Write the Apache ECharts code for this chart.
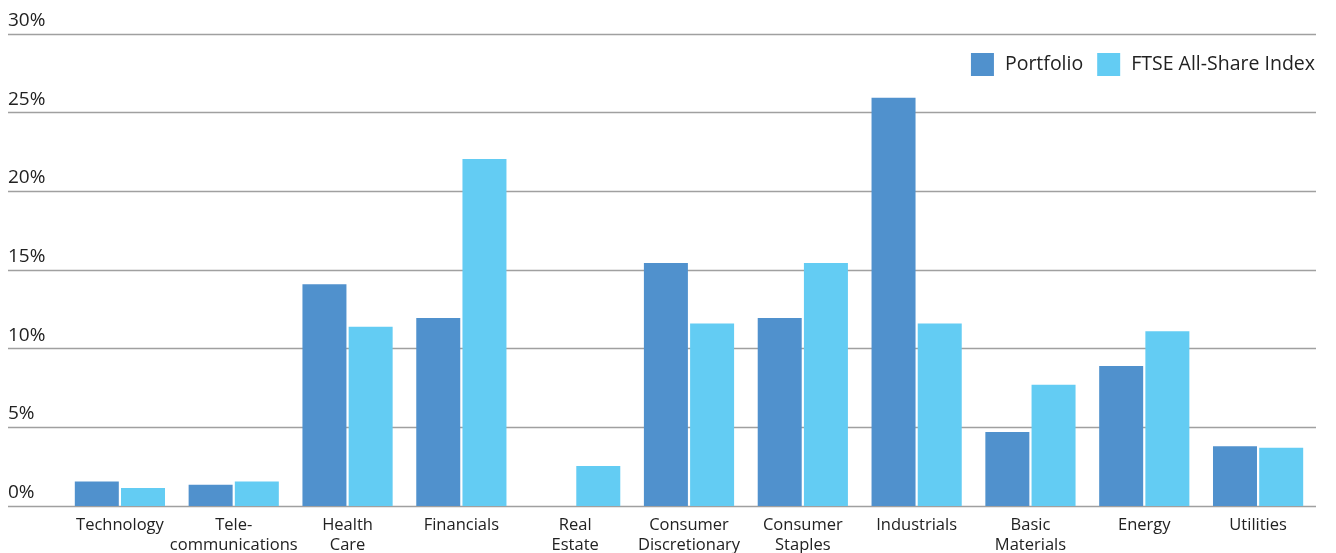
<!DOCTYPE html>
<html><head><meta charset="utf-8">
<script src="https://cdn.jsdelivr.net/npm/echarts@6/dist/echarts.min.js"></script>
<style>html,body{margin:0;padding:0;background:#fff}#c{width:1336px;height:553px}</style>
</head><body><div id="c"></div>
<script>
const categories = ["Technology","Tele-\ncommunications","Health\nCare","Financials","Real\nEstate","Consumer\nDiscretionary","Consumer\nStaples","Industrials","Basic\nMaterials","Energy","Utilities"];
const portfolio = [1.55, 1.35, 14.1, 11.95, 0, 15.45, 11.95, 25.95, 4.7, 8.9, 3.8];
const ftseAllShare = [1.15, 1.55, 11.4, 22.05, 2.55, 11.6, 15.45, 11.6, 7.7, 11.1, 3.7];
const yTicks = [0, 5, 10, 15, 20, 25, 30];

const FONT = "'Open Sans', sans-serif";
const chart = echarts.init(document.getElementById('c'));
chart.setOption({
  animation: false,
  backgroundColor: '#fff',
  textStyle: { fontFamily: FONT },
  legend: {
    right: 21, top: 53, padding: 0,
    itemWidth: 23, itemHeight: 23, itemGap: 14,
    icon: 'rect',
    textStyle: { fontSize: 19.5, color: '#222', fontFamily: FONT, padding: [0,0,0,6] },
    data: ['Portfolio', 'FTSE All-Share Index']
  },
  grid: [
    { left: 8, right: 20, top: 34, bottom: 47, containLabel: false, outerBoundsMode: 'none' },
    { left: 63, right: 21, top: 34, bottom: 47, containLabel: false, outerBoundsMode: 'none' }
  ],
  xAxis: [
    { gridIndex: 0, type: 'category', data: categories, show: false },
    { gridIndex: 1, type: 'category', data: categories,
      axisLine: { show: false }, axisTick: { show: false },
      axisLabel: { margin: 9, fontSize: 16.5, color: '#222', lineHeight: 20, fontFamily: FONT, interval: 0 } }
  ],
  yAxis: [
    { gridIndex: 0, type: 'value', min: yTicks[0], max: yTicks[yTicks.length-1], interval: 5,
      axisLine: { show: false }, axisTick: { show: false },
      splitLine: { lineStyle: { color: '#a0a0a0', width: 1.3 } },
      axisLabel: { inside: true, margin: 0, verticalAlign: 'bottom', padding: [0,0,4,0],
        fontSize: 19, color: '#222', fontFamily: FONT, formatter: '{value}%' } },
    { gridIndex: 1, type: 'value', min: 0, max: 30, interval: 5, show: false, splitLine: { show: false } }
  ],
  series: [
    { name: 'Portfolio', type: 'bar', xAxisIndex: 1, yAxisIndex: 1, data: portfolio,
      itemStyle: { color: '#5091CD' }, barWidth: 44, barGap: '5%' },
    { name: 'FTSE All-Share Index', type: 'bar', xAxisIndex: 1, yAxisIndex: 1, data: ftseAllShare,
      itemStyle: { color: '#63CCF3' }, barWidth: 44, barGap: '5%' }
  ]
});
</script></body></html>
